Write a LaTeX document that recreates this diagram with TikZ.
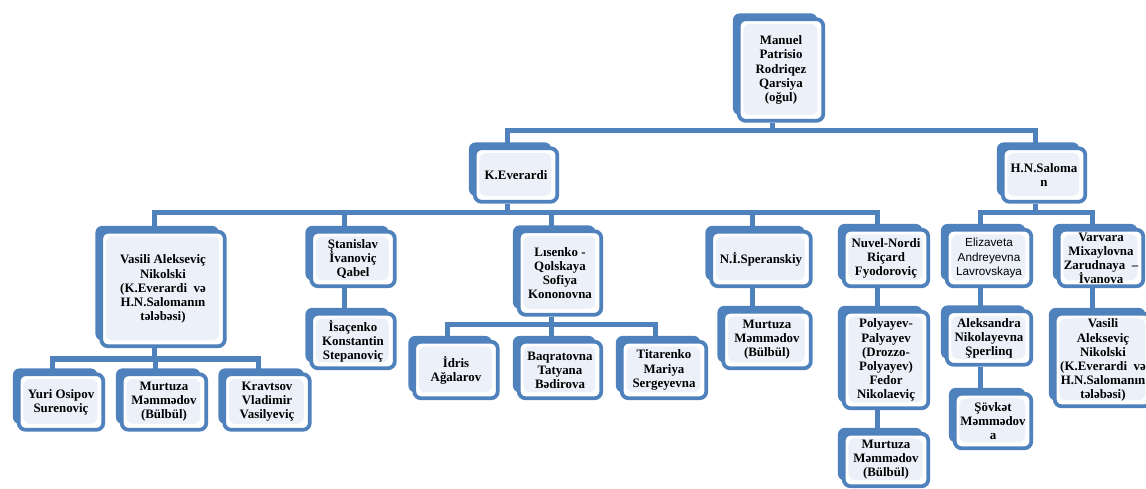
\documentclass[tikz,border=0pt]{standalone}
\usepackage{fontspec}
\setmainfont{Liberation Serif}
\newfontfamily\sansAz{Liberation Sans}
\usepackage{tikz}
\usetikzlibrary{shadows}
\definecolor{boxBlue}{RGB}{79,129,189}
\definecolor{boxFill}{RGB}{236,241,249}
\tikzstyle{chart} = [x = 0.03cm, y = -0.03cm]
\tikzstyle{personStyle} = [draw=boxBlue, line width=3.2pt, fill=white, rounded corners = .2cm, align=center, inner sep=0pt, font=\fontsize{11}{12}\selectfont\bfseries, general shadow={fill=boxBlue, shadow xshift=-5pt, shadow yshift=5pt},
  path picture={\fill [boxFill] ([shift={(4pt,-4pt)}]path picture bounding box.north west) rectangle ([shift={(-5pt,5pt)}]path picture bounding box.south east);}]
\tikzstyle{barLine} = [color=boxBlue, line width=4.5pt, transform canvas={xshift=-7.5pt}]
\newcommand{\pxunit}{0.03cm}
\newcommand{\personBox}[6]{\node [personStyle, minimum width=#4*\pxunit - 3pt, minimum height=#5*\pxunit - 3pt] (#1) at (#2, #3) {#6};}
\newcommand{\dropBar}[3]{
  \draw [barLine] (#1.south) -- ++(0, #2) coordinate (#1Bar);
  \foreach \child in {#3} {
    \draw [barLine] (#1Bar) -| (\child.north);
  }
}

\begin{document}
\begin{tikzpicture}[chart]
  \useasboundingbox (0,0) rectangle (1146,489);
  \clip (0,0) rectangle (1146,489);

  % top two levels
  \personBox{root}{781}{70}{88}{105}{Manuel\\Patrisio\\Rodriqez\\Qarsiya\\(oğul)}
  \personBox{kev}{516}{175}{86}{57}{K.Everardi}
  \personBox{hns}{1044}{175}{86}{57}{H.N.Saloma\\n}

  % pupils of K.Everardi
  \personBox{vas}{163}{289}{127}{118}{Vasili Alekseviç\\Nikolski\\(K.Everardi~ və\\H.N.Salomanın\\tələbəsi)}
  \personBox{yur}{61}{402}{88}{59}{Yuri Osipov\\Surenoviç}
  \personBox{murA}{164}{402}{88}{59}{Murtuza\\Məmmədov\\(Bülbül)}
  \personBox{kra}{267}{402}{89}{59}{Kravtsov\\Vladimir\\Vasilyeviç}
  \personBox{sta}{353}{259}{87}{58}{Ştanislav\\İvanoviç\\Qabel}
  \personBox{isa}{353}{341}{87}{58}{İsaçenko\\Konstantin\\Stepanoviç}
  \personBox{lis}{560}{273}{86}{87}{Lısenko -\\Qolskaya\\Sofiya\\Kononovna}
  \personBox{idr}{456}{370}{87}{60}{İdris\\Ağalarov}
  \personBox{baq}{560}{370}{86}{60}{Baqratovna\\Tatyana\\Bədirova}
  \personBox{tit}{664}{370}{88}{60}{Titarenko\\Mariya\\Sergeyevna}
  \personBox{spe}{761}{259}{103}{58}{N.İ.Speranskiy}
  \personBox{murB}{767}{340}{91}{60}{Murtuza\\Məmmədov\\(Bülbül)}
  \personBox{nuv}{886}{258}{88}{60}{Nuvel-Nordi\\Riçard\\Fyodoroviç}
  \personBox{pol}{886}{360}{88}{100}{Polyayev-\\Palyayev\\(Drozzo-\\Polyayev)\\Fedor\\Nikolaeviç}
  \personBox{murC}{886}{460}{88}{56}{Murtuza\\Məmmədov\\(Bülbül)}

  % pupils of H.N.Saloman
  \node [personStyle, font=\sansAz\fontsize{10}{12.7}\selectfont, minimum width=88*\pxunit - 3pt, minimum height=60*\pxunit - 3pt] (eli) at (989, 258) {Elizaveta\\Andreyevna\\Lavrovskaya};
  \personBox{ale}{989}{338}{88}{57}{Aleksandra\\Nikolayevna\\Şperlinq}
  \personBox{sov}{993}{421}{80}{58}{Şövkət\\Məmmədov\\a}
  \personBox{var}{1101}{258}{88}{60}{Varvara\\Mixaylovna\\Zarudnaya~ –\\İvanova}
  \personBox{vasB}{1103}{360}{100}{96}{Vasili\\Alekseviç\\Nikolski\\(K.Everardi~ və\\H.N.Salomanın\\tələbəsi)}

  % connectors
  \dropBar{root}{8}{kev, hns}
  \dropBar{kev}{9}{vas, sta, lis, spe, nuv}
  \dropBar{hns}{9}{eli, var}
  \dropBar{vas}{11}{yur, murA, kra}
  \dropBar{lis}{8}{idr, baq, tit}
  \draw [barLine] (sta) -- (isa);
  \draw [barLine] (spe.south) -- (spe.south |- murB.north);
  \draw [barLine] (nuv) -- (pol);
  \draw [barLine] (pol) -- (murC);
  \draw [barLine] (eli) -- (ale);
  \draw [barLine] (ale.south) -- (ale.south |- sov.north);
  \draw [barLine] (var.south) -- (var.south |- vasB.north);
\end{tikzpicture}
\end{document}
